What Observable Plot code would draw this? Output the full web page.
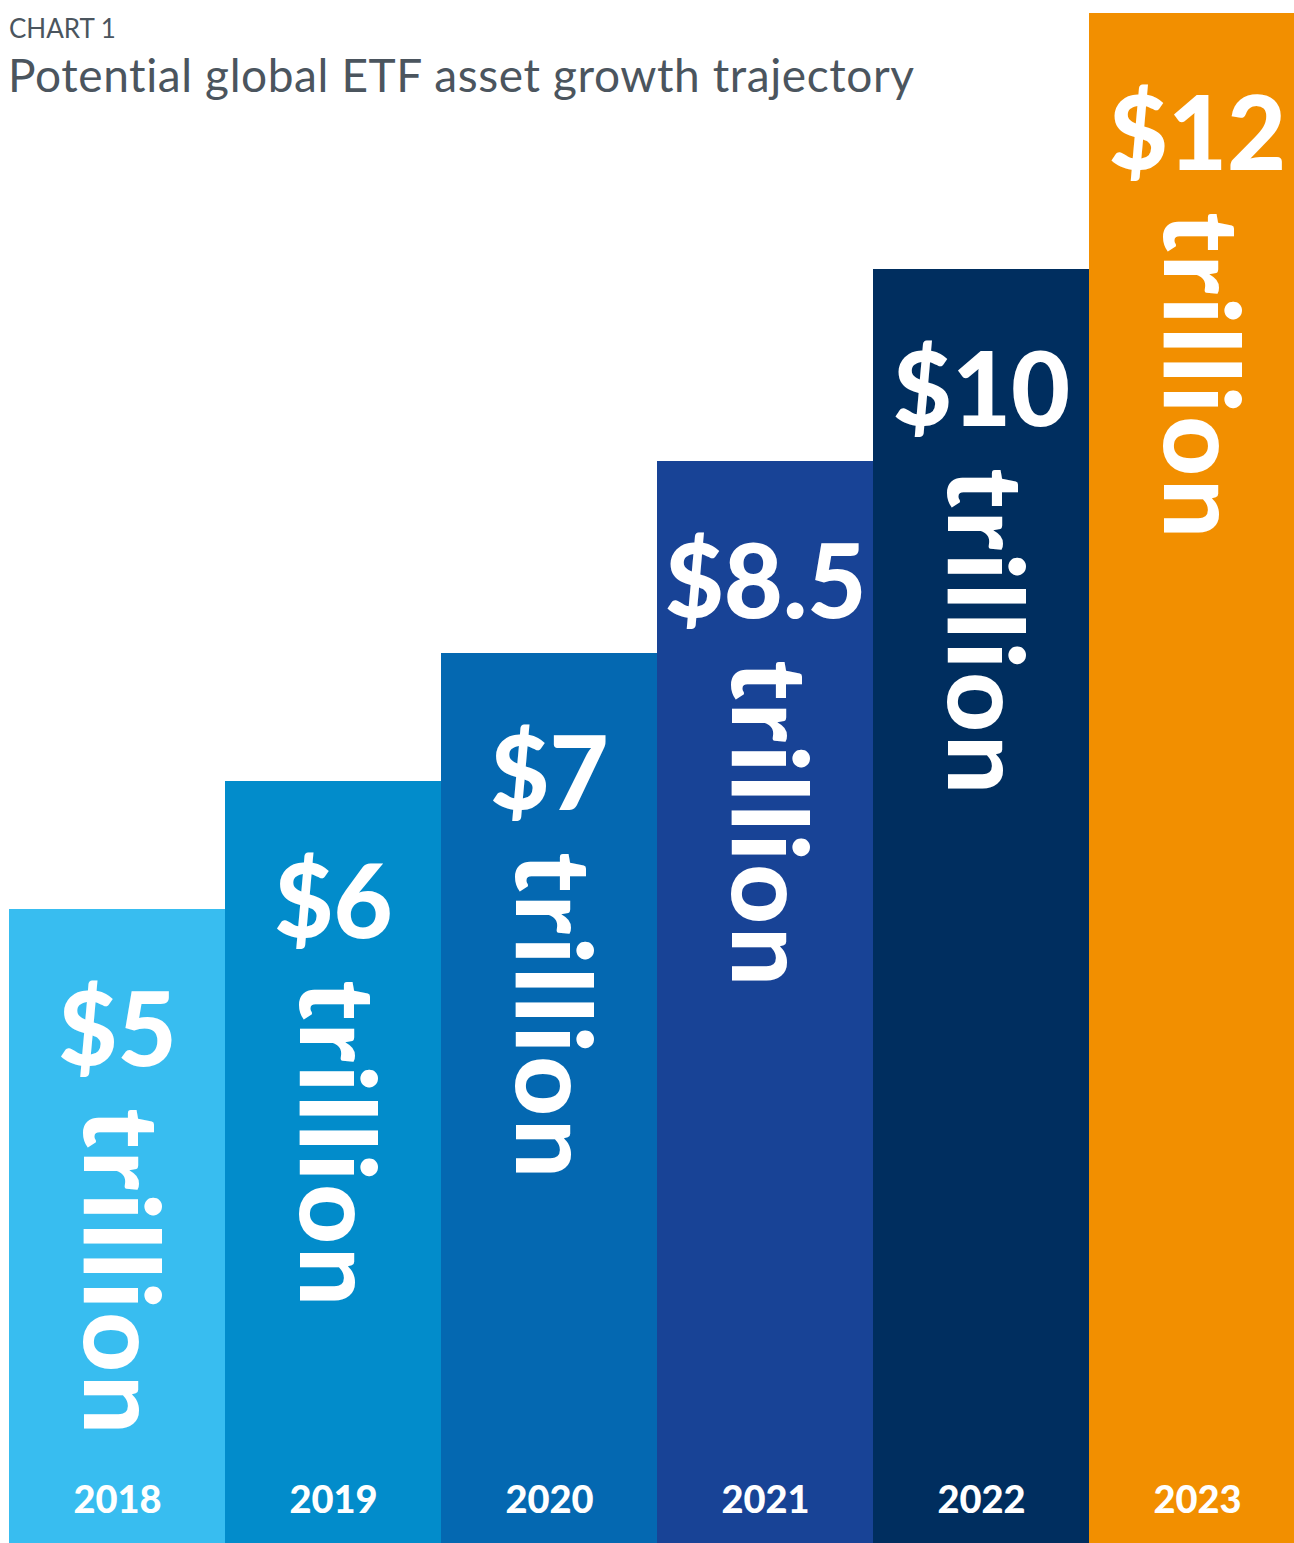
<!DOCTYPE html>
<html>
<head>
<meta charset="utf-8">
<script src="https://cdn.jsdelivr.net/npm/d3@7"></script>
<script src="https://cdn.jsdelivr.net/npm/@observablehq/plot@0.6"></script>
<style>
  html, body { margin: 0; padding: 0; background: #fff; }
  #wrap { position: relative; width: 1294px; height: 1543px; overflow: hidden; }
  #chart { position: absolute; left: 0; top: 0; }
  #chart svg { overflow: hidden; font-variant-ligatures: none; }
  .kicker { position: absolute; left: 9px; top: 15px; font-family: Lato, "Open Sans", sans-serif; font-size: 26px; line-height: 1; color: #4b555e; white-space: nowrap; font-variant-ligatures: none; }
  .title { position: absolute; left: 8px; top: 52px; font-family: Lato, "Open Sans", sans-serif; font-size: 46px; letter-spacing: 0.6px; line-height: 1; color: #4b555e; white-space: nowrap; font-variant-ligatures: none; }
</style>
</head>
<body>
<div id="wrap">
  <div id="chart"></div>
  <div class="kicker">CHART 1</div>
  <div class="title">Potential global ETF asset growth trajectory</div>
</div>
<script>
const years = ["2018", "2019", "2020", "2021", "2022", "2023"];
const values = [5, 6, 7, 8.5, 10, 12];
const valueLabels = ["$5", "$6", "$7", "$8.5", "$10", "$12"];
const unitLabel = "trillion";
const barColors = ["#38bdf0", "#028ccb", "#0468b1", "#184396", "#002e5f", "#f28f00"];

const data = years.map((year, i) => ({year, value: values[i], label: valueLabels[i]}));
const font = "Lato, 'Open Sans', sans-serif";

const chart = Plot.plot({
  width: 1294,
  height: 1543,
  margin: 0,
  style: {background: "transparent"},
  x: {domain: years, range: [9, 1305], padding: 0, axis: null},
  y: {domain: [0, 12], range: [1549, 13], axis: null},
  color: {domain: years, range: barColors},
  marks: [
    Plot.barY(data, {x: "year", y: "value", fill: "year"}),
    Plot.text(data, {x: "year", y: "value", text: "label", dy: 156, lineAnchor: "bottom",
      fill: "white", fontSize: 102, fontWeight: 900, fontFamily: font}),
    Plot.text(data, {x: "year", y: "value", text: () => unitLabel, rotate: 90, textAnchor: "start",
      lineAnchor: "middle", dy: 199, fill: "white", fontSize: 104, fontWeight: 900, fontFamily: font}),
    Plot.text(data, {x: "year", y: () => 0, text: "year", dy: -37, lineAnchor: "bottom",
      fill: "white", fontSize: 38, fontWeight: 900, fontFamily: font})
  ]
});
d3.select(chart).selectAll("text")
  .filter(function () { return this.textContent === unitLabel; })
  .style("letter-spacing", "3px");
document.getElementById("chart").appendChild(chart);
</script>
</body>
</html>
